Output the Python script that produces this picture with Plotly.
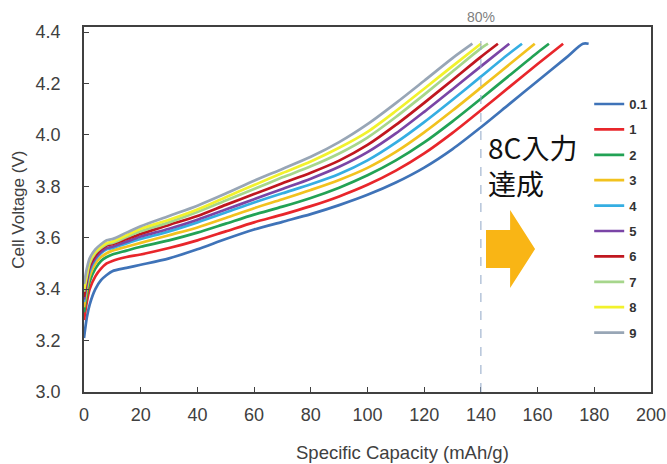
import plotly.graph_objects as go

# ---------------- data ----------------
rates = ["0.1", "1", "2", "3", "4", "5", "6", "7", "8", "9"]
colors = ["#3f73b8", "#e8262b", "#22a255", "#f2c21e", "#35aee2",
          "#7a45a6", "#c0171f", "#a6d68c", "#f2f22c", "#98a6b6"]

cap_low = [0, 1, 2, 4, 6, 8, 10, 15, 20, 30, 40, 50, 60]

cap_01 = cap_low + [70, 80, 90, 100, 110, 120, 130, 140, 150, 160, 170, 176, 178]
v_01 = [3.21, 3.29, 3.34, 3.40, 3.435, 3.455, 3.47, 3.483, 3.495, 3.52, 3.555, 3.595, 3.632,
        3.662, 3.692, 3.727, 3.767, 3.815, 3.873, 3.945, 4.03, 4.12, 4.21, 4.30, 4.355, 4.355]

cap_1 = cap_low + [70, 80, 90, 100, 110, 120, 130, 140, 150, 160, 169]
v_1 = [3.28, 3.35, 3.40, 3.45, 3.48, 3.50, 3.51, 3.525, 3.535, 3.56, 3.59, 3.625, 3.66,
       3.69, 3.723, 3.761, 3.806, 3.861, 3.928, 4.008, 4.096, 4.186, 4.276, 4.355]

cap_2 = cap_low + [70, 80, 90, 100, 110, 120, 130, 140, 150, 160, 164]
v_2 = [3.31, 3.38, 3.43, 3.48, 3.51, 3.525, 3.535, 3.55, 3.565, 3.59, 3.62, 3.655, 3.69,
       3.721, 3.755, 3.795, 3.843, 3.901, 3.971, 4.053, 4.141, 4.231, 4.321, 4.355]

cap_3 = cap_low + [70, 80, 90, 100, 110, 120, 130, 140, 150, 159]
v_3 = [3.33, 3.40, 3.45, 3.50, 3.525, 3.54, 3.55, 3.565, 3.58, 3.61, 3.64, 3.677, 3.715,
       3.75, 3.786, 3.825, 3.872, 3.934, 4.01, 4.095, 4.184, 4.274, 4.355]

cap_4 = cap_low + [70, 80, 90, 100, 110, 120, 130, 140, 150, 154.5]
v_4 = [3.35, 3.42, 3.47, 3.515, 3.54, 3.555, 3.56, 3.578, 3.595, 3.625, 3.66, 3.698, 3.737,
       3.773, 3.808, 3.848, 3.901, 3.97, 4.05, 4.137, 4.227, 4.317, 4.355]

cap_5 = cap_low + [70, 80, 90, 100, 110, 120, 130, 140, 150]
v_5 = [3.36, 3.43, 3.48, 3.52, 3.545, 3.56, 3.565, 3.585, 3.605, 3.635, 3.67, 3.71, 3.75,
       3.79, 3.83, 3.876, 3.933, 4.006, 4.09, 4.178, 4.267, 4.355]

cap_6 = cap_low + [70, 80, 90, 100, 110, 120, 130, 140, 146]
v_6 = [3.37, 3.44, 3.49, 3.53, 3.555, 3.57, 3.575, 3.595, 3.615, 3.65, 3.685, 3.728, 3.77,
       3.812, 3.853, 3.90, 3.961, 4.039, 4.125, 4.214, 4.304, 4.355]

cap_7 = cap_low + [70, 80, 90, 100, 110, 120, 130, 140, 142.5]
v_7 = [3.39, 3.45, 3.50, 3.54, 3.56, 3.575, 3.58, 3.603, 3.625, 3.66, 3.70, 3.745, 3.79,
       3.835, 3.878, 3.928, 3.99, 4.07, 4.157, 4.247, 4.337, 4.355]

cap_8 = cap_low + [70, 80, 90, 100, 110, 120, 130, 140]
v_8 = [3.40, 3.46, 3.51, 3.545, 3.565, 3.58, 3.585, 3.61, 3.635, 3.67, 3.71, 3.758, 3.805,
       3.852, 3.897, 3.95, 4.012, 4.093, 4.18, 4.268, 4.355]

cap_9 = cap_low + [70, 80, 90, 100, 110, 120, 130, 137]
v_9 = [3.42, 3.48, 3.52, 3.555, 3.575, 3.59, 3.595, 3.62, 3.645, 3.685, 3.725, 3.772, 3.822,
       3.868, 3.915, 3.972, 4.042, 4.124, 4.211, 4.299, 4.355]

caps = [cap_01, cap_1, cap_2, cap_3, cap_4, cap_5, cap_6, cap_7, cap_8, cap_9]
volts = [v_01, v_1, v_2, v_3, v_4, v_5, v_6, v_7, v_8, v_9]

x_ticks = [0, 20, 40, 60, 80, 100, 120, 140, 160, 180, 200]
y_ticks = [3.0, 3.2, 3.4, 3.6, 3.8, 4.0, 4.2, 4.4]
marker_cap = 140
marker_label = "80%"
note_text = "8C入力<br>達成"

# ---------------- figure ----------------
FONT = "Liberation Sans, Arial, sans-serif"
TXT = "#404040"

fig = go.Figure()
for name, c, x, y in zip(rates, colors, caps, volts):
    fig.add_trace(go.Scatter(
        x=x, y=y, mode="lines", name=name, legendgroup=name,
        line=dict(color=c, width=2.7, shape="spline", smoothing=0.8),
    ))

fig.update_layout(
    width=667, height=464,
    margin=dict(l=84, r=16, t=27, b=72, autoexpand=False),
    paper_bgcolor="white", plot_bgcolor="white",
    font=dict(family=FONT, color=TXT, size=18),
    showlegend=True,
    legend=dict(
        x=0.891, y=0.83, xanchor="left", yanchor="top",
        bgcolor="rgba(0,0,0,0)", borderwidth=0,
        font=dict(family=FONT, size=13, color="#333333", weight="bold"),
        itemwidth=30, tracegroupgap=5.5,
    ),
)

fig.update_xaxes(
    range=[0, 200], tickvals=x_ticks, ticks="inside", ticklen=5,
    tickcolor="#404040", showline=True, linecolor="#404040", linewidth=1.5,
    mirror=True, showgrid=False, zeroline=False, ticklabelstandoff=6,
    tickfont=dict(size=18, color=TXT),
)
fig.update_yaxes(
    range=[3.0, 4.42], tickvals=y_ticks, tickformat=".1f", ticks="inside", ticklen=5,
    tickcolor="#404040", showline=True, linecolor="#404040", linewidth=1.5,
    mirror=True, showgrid=False, zeroline=False, ticklabelstandoff=18,
    tickfont=dict(size=18, color=TXT),
)

# 80% dashed marker line
fig.add_shape(type="line", xref="x", yref="y", x0=marker_cap, x1=marker_cap,
              y0=3.0, y1=4.4, line=dict(color="#8fa6c6", width=1, dash="dash"))
fig.add_annotation(x=marker_cap, xref="x", y=1.027, yref="paper", text=marker_label,
                   showarrow=False, font=dict(size=14, color="#7f7f7f"),
                   xanchor="center", yanchor="middle")

# Japanese note and orange arrow
fig.add_annotation(x=141.8, xref="x", y=0.623, yref="paper", text=note_text,
                   showarrow=False, align="left", xanchor="left", yanchor="middle",
                   font=dict(family="Noto Sans CJK JP", size=28, color="#111111"))
fig.add_shape(type="path", xref="x", yref="y", fillcolor="#f9b515",
              line=dict(width=0),
              path="M 141.8,3.630 L 150.3,3.630 L 150.3,3.708 L 159.1,3.556 "
                   "L 150.3,3.405 L 150.3,3.482 L 141.8,3.482 Z")

# axis titles
fig.add_annotation(x=0.561, xref="paper", y=-0.165, yref="paper",
                   text="Specific Capacity (mAh/g)", showarrow=False,
                   xanchor="center", yanchor="middle", font=dict(size=18.5, color=TXT))
fig.add_annotation(x=-0.116, xref="paper", y=0.5, yref="paper",
                   text="Cell Voltage (V)", textangle=-90, showarrow=False,
                   xanchor="center", yanchor="middle", font=dict(size=17, color=TXT))

fig.write_html("out.html")
